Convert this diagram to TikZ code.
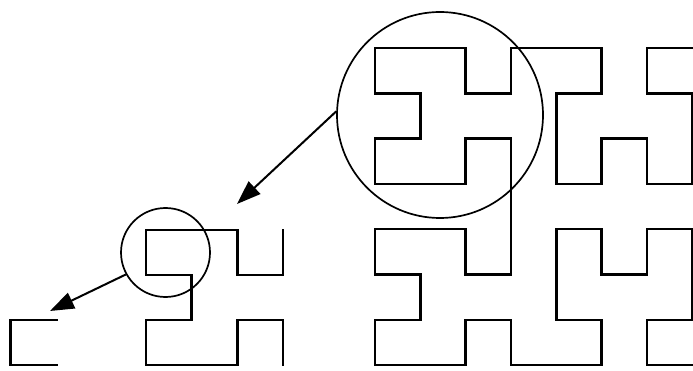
\documentclass[tikz,border=0pt]{standalone}
\usetikzlibrary{arrows.meta}
\begin{document}
\begin{tikzpicture}[x=1pt,y=-1pt,
  curve/.style={line width=2.6pt,line join=miter,line cap=rect},
  ring/.style={circle,draw,line width=1.7pt,inner sep=0pt},
  pointer/.style={line width=2pt,-{Triangle[length=24pt,width=17pt]}}]
\useasboundingbox (0,0) rectangle (693,371);
% order 1
\begin{scope}[shift={(10.5,320)},x=46.5pt,y=-45pt]
\draw[curve] (1,0) -- (0,0) -- (0,1) -- (1,1);
\end{scope}
% order 2
\begin{scope}[shift={(146,230)},x=45.6pt,y=-45pt]
\draw[curve] (3,0) -- (3,1) -- (2,1) -- (2,0) -- (1,0) -- (0,0) -- (0,1) -- (1,1)
 -- (1,2) -- (0,2) -- (0,3) -- (1,3) -- (2,3) -- (2,2) -- (3,2) -- (3,3);
\end{scope}
% order 3
\begin{scope}[shift={(375,48)},x=45.3pt,y=-45.3pt]
\draw[curve] (7,0) -- (6,0) -- (6,1) -- (7,1) -- (7,2) -- (7,3) -- (6,3) -- (6,2)
 -- (5,2) -- (5,3) -- (4,3) -- (4,2) -- (4,1) -- (5,1) -- (5,0) -- (4,0)
 -- (3,0) -- (3,1) -- (2,1) -- (2,0) -- (1,0) -- (0,0) -- (0,1) -- (1,1)
 -- (1,2) -- (0,2) -- (0,3) -- (1,3) -- (2,3) -- (2,2) -- (3,2) -- (3,3)
 -- (3,4) -- (3,5) -- (2,5) -- (2,4) -- (1,4) -- (0,4) -- (0,5) -- (1,5)
 -- (1,6) -- (0,6) -- (0,7) -- (1,7) -- (2,7) -- (2,6) -- (3,6) -- (3,7)
 -- (4,7) -- (5,7) -- (5,6) -- (4,6) -- (4,5) -- (4,4) -- (5,4) -- (5,5)
 -- (6,5) -- (6,4) -- (7,4) -- (7,5) -- (7,6) -- (6,6) -- (6,7) -- (7,7);
\end{scope}
% circles
\node[ring,minimum size=206pt] (big) at (440,115) {};
\node[ring,minimum size=89pt] (small) at (165.5,252.5) {};
% arrow targets
\coordinate (tipA) at (237,204);
\coordinate (tipB) at (50,311);
\draw[pointer] (big.178) -- (tipA);
\draw[pointer] (small.209) -- (tipB);
\end{tikzpicture}
\end{document}
